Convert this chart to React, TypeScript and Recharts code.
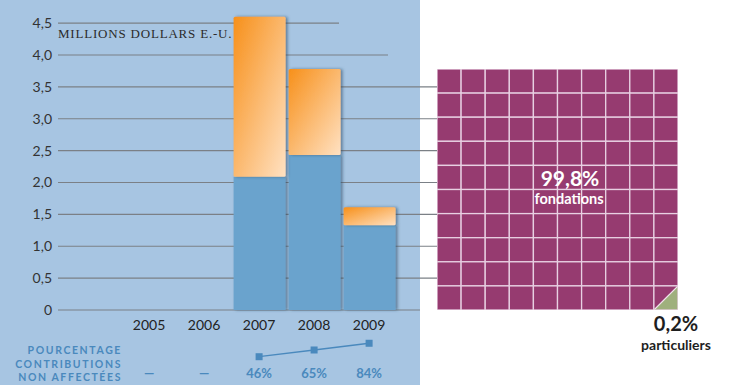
import React from 'react';
import {
  ComposedChart, Bar, XAxis, YAxis, CartesianGrid,
  LineChart, Line, ScatterChart, Scatter,
} from 'recharts';

// ---------- data ----------
const years = ['2005', '2006', '2007', '2008', '2009'];
const unearmarked = [null, null, 2.09, 2.43, 1.33]; // millions USD (blue)
const earmarked = [null, null, 2.51, 1.35, 0.28]; // millions USD (orange)
const unearmarkedPct = [null, null, 46, 65, 84];
const yTicks = [0, 0.5, 1, 1.5, 2, 2.5, 3, 3.5, 4, 4.5];
const shareNames = ['fondations', 'particuliers'];
const shareValues = [99.8, 0.2];

// ---------- layout constants ----------
const W = 733;
const H = 385;
const Y_MAX = 4.8;
const M_TOP = 4;
const M_RIGHT = 296;
const M_BOTTOM = 45;
const X_AXIS_H = 30;
const Y_AXIS_W = 58;
const PLOT_BOTTOM = H - M_BOTTOM - X_AXIS_H;
const PLOT_H = PLOT_BOTTOM - M_TOP;
const BAND = 55;
const X_PAD = { left: 63.6, right: 40.4 };
// point scale (line chart) needs half a band more on each side to hit band centres
const X_PAD_PT = { left: X_PAD.left + BAND / 2, right: X_PAD.right + BAND / 2 };
const FONT = 'Lato, "Open Sans", sans-serif';

const PANEL = '#a7c5e2';
const BLUE_BAR = '#6ba3cd';
const LABEL_BLUE = '#4a89bd';
const GRID = '#7b8086';
const PURPLE = '#963b70';
const GREEN = '#9fb07d';

const barData = years.map((y, i) => ({
  year: y,
  unearmarked: unearmarked[i],
  earmarked: earmarked[i],
}));

const pctData = years.map((y, i) => ({ year: y, pct: unearmarkedPct[i] }));

// waffle: 100 cells, filled row by row from top-left with the shares
const WAFFLE = 241;
const CELL = WAFFLE / 10;
const waffleCells = Array.from({ length: 100 }, (_, i) => {
  const fond = Math.min(1, Math.max(0, shareValues[0] - i));
  return {
    x: (i % 10) + 0.5,
    y: 10 - Math.floor(i / 10) - 0.5,
    fond,
  };
});

const fmtY = (v: number) => (v === 0 ? '0' : v.toFixed(1).replace('.', ','));

const gridLine = (p: any) => {
  const v = (Y_MAX * (PLOT_BOTTOM - p.y1)) / PLOT_H;
  const key = `g-${p.index}-${p.y1}`;
  if (v > 4.6) return <g key={key} />;
  let x2 = p.x2;
  if (Math.abs(v - 4.5) < 0.05) x2 = 339;
  else if (Math.abs(v - 4.0) < 0.05) x2 = 388;
  else if (Math.abs(v) < 0.05) x2 = 420;
  return <line key={key} x1={p.x1} y1={p.y1} x2={x2} y2={p.y2} stroke={GRID} strokeWidth={1.2} />;
};

const BlueShape = (p: any) =>
  p.height > 0 ? (
    <rect x={p.x} y={p.y} width={p.width} height={p.height} fill={BLUE_BAR} filter="url(#barShadow)" />
  ) : null;

const OrangeShape = (p: any) =>
  p.height > 0 ? (
    <rect x={p.x} y={p.y} width={p.width} height={p.height} rx={1.5} fill="url(#orangeGrad)" filter="url(#barShadow)" />
  ) : null;

const PctTick = (p: any) => {
  const v = unearmarkedPct[p.index];
  const label = v == null ? '—' : `${v}%`;
  return (
    <text x={p.x} y={p.y} dy={5} textAnchor="middle" fontFamily={FONT} fontWeight={700} fontSize={13} fill={LABEL_BLUE}>
      {label}
    </text>
  );
};

const SquareDot = (p: any) => {
  if (p.value == null || p.cy == null) return <g key={`d${p.index}`} />;
  return <rect key={`d${p.index}`} x={p.cx - 3.5} y={p.cy - 3.5} width={7} height={7} fill={LABEL_BLUE} />;
};

const WaffleCell = (p: any) => {
  const x = p.cx - CELL / 2;
  const y = p.cy - CELL / 2;
  const fond = p.payload?.fond ?? 1;
  return (
    <g>
      <rect x={x} y={y} width={CELL} height={CELL} fill={PURPLE} />
      {fond < 1 && (
        <polygon
          points={`${x + CELL},${y} ${x + CELL},${y + CELL} ${x},${y + CELL}`}
          fill={GREEN}
        />
      )}
      {fond < 1 && (
        <line x1={x + CELL} y1={y} x2={x} y2={y + CELL} stroke="#f2e6ee" strokeWidth={1.2} />
      )}
      <rect x={x} y={y} width={CELL} height={CELL} fill="none" stroke="#e8d0e2" strokeWidth={1.3} />
    </g>
  );
};

export default function App() {
  return (
    <div style={{ position: 'absolute', left: 0, top: 0, width: W, height: H, background: '#ffffff', overflow: 'hidden' }}>
      <div style={{ position: 'absolute', left: 0, top: 0, width: 420, height: H, background: PANEL }} />

      <svg width={W} height={H} style={{ position: 'absolute', left: 0, top: 0 }}>
        <text x={58} y={38} fontFamily='"Liberation Serif", "DejaVu Serif", serif' fontSize={13} letterSpacing={0.8} fill="#2b2b2b">
          MILLIONS DOLLARS E.-U.
        </text>
      </svg>

      <div style={{ position: 'absolute', left: 0, top: 0 }}>
        <ComposedChart width={W} height={H} data={barData} margin={{ top: M_TOP, right: M_RIGHT, bottom: M_BOTTOM, left: 0 }}>
          <defs>
            <linearGradient id="orangeGrad" x1="0" y1="0" x2="1" y2="1">
              <stop offset="0%" stopColor="#f7901a" />
              <stop offset="100%" stopColor="#ffe1c2" />
            </linearGradient>
            <filter id="barShadow" x="-20%" y="-20%" width="150%" height="140%">
              <feDropShadow dx={2} dy={0} stdDeviation={1.4} floodColor="#24425f" floodOpacity={0.55} />
            </filter>
          </defs>
          <CartesianGrid vertical={false} horizontal={gridLine} />
          <XAxis
            dataKey="year"
            height={X_AXIS_H}
            padding={X_PAD}
            axisLine={false}
            tickLine={false}
            tickSize={0}
            tickMargin={10}
            interval={0}
            tick={{ fontFamily: FONT, fontSize: 14, fill: '#222' }}
          />
          <YAxis
            width={Y_AXIS_W}
            domain={[0, Y_MAX]}
            ticks={yTicks}
            tickFormatter={fmtY}
            axisLine={false}
            tickLine={false}
            tickSize={0}
            tickMargin={6}
            interval={0}
            tick={{ fontFamily: FONT, fontSize: 14, fill: '#333' }}
          />
          <Bar dataKey="unearmarked" stackId="a" barSize={52} shape={BlueShape} isAnimationActive={false} />
          <Bar dataKey="earmarked" stackId="a" barSize={52} shape={OrangeShape} isAnimationActive={false} />
        </ComposedChart>
      </div>

      <div style={{ position: 'absolute', left: 0, top: 330 }}>
        <LineChart width={W} height={55} data={pctData} margin={{ top: 7.6, right: M_RIGHT, bottom: 0, left: Y_AXIS_W }}>
          <XAxis
            dataKey="year"
            height={12}
            padding={X_PAD_PT}
            axisLine={false}
            tickLine={false}
            tickSize={0}
            tickMargin={0}
            interval={0}
            tick={PctTick}
          />
          <YAxis hide domain={[0, 100]} />
          <Line
            dataKey="pct"
            stroke={LABEL_BLUE}
            strokeWidth={1.3}
            dot={SquareDot}
            activeDot={false}
            connectNulls
            isAnimationActive={false}
          />
        </LineChart>
      </div>

      <div style={{ position: 'absolute', left: 437, top: 69 }}>
        <ScatterChart width={WAFFLE} height={WAFFLE} margin={{ top: 0, right: 0, bottom: 0, left: 0 }}>
          <XAxis type="number" dataKey="x" domain={[0, 10]} hide />
          <YAxis type="number" dataKey="y" domain={[0, 10]} hide />
          <Scatter data={waffleCells} shape={WaffleCell} isAnimationActive={false} />
        </ScatterChart>
      </div>

      <svg width={W} height={H} style={{ position: 'absolute', left: 0, top: 0, pointerEvents: 'none' }}>
        <g fontFamily={FONT} fontWeight={700} fontSize={10.5} letterSpacing={1.6} fill={LABEL_BLUE} textAnchor="end">
          <text x={122} y={354}>POURCENTAGE</text>
          <text x={122} y={367.5}>CONTRIBUTIONS</text>
          <text x={122} y={381}>NON AFFECTÉES</text>
        </g>
        <text x={570} y={186} textAnchor="middle" fontFamily={FONT} fontWeight={700} fontSize={21} fill="#ffffff">
          {`${shareValues[0].toString().replace('.', ',')}%`}
        </text>
        <text x={569} y={204} textAnchor="middle" fontFamily={FONT} fontWeight={700} fontSize={14.5} fill="#ffffff">
          {shareNames[0]}
        </text>
        <text x={676} y={330.5} textAnchor="middle" fontFamily={FONT} fontWeight={700} fontSize={20} fill="#1e1e1e">
          {`${shareValues[1].toString().replace('.', ',')}%`}
        </text>
        <text x={676} y={350} textAnchor="middle" fontFamily={FONT} fontWeight={700} fontSize={14} fill="#1e1e1e">
          {shareNames[1]}
        </text>
      </svg>
    </div>
  );
}
